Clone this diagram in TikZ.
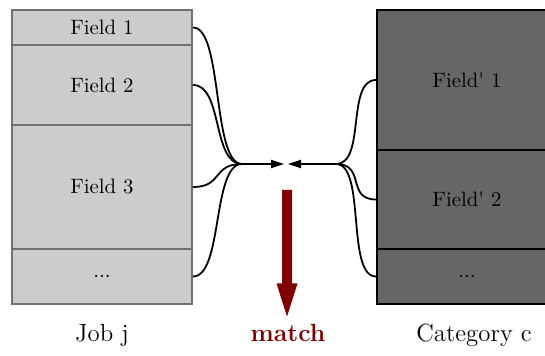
\documentclass[tikz,border=0pt]{standalone}
\usetikzlibrary{arrows.meta}
\definecolor{lightfield}{HTML}{CCCCCC}
\definecolor{lightborder}{HTML}{707070}
\definecolor{darkfield}{HTML}{666666}
\definecolor{matchred}{HTML}{800000}
\begin{document}
\begin{tikzpicture}[x=0.5pt,y=-0.5pt,
  jobfield/.style={draw=lightborder,fill=lightfield,line width=1pt,minimum width=90pt,inner sep=0pt,font=\fontsize{10.4}{12}\selectfont},
  catfield/.style={draw=black,fill=darkfield,line width=1pt,minimum width=90pt,inner sep=0pt,font=\fontsize{10.4}{12}\selectfont},
  link/.style={line width=0.9pt,black},
  linkarrow/.style={line width=0.9pt,black,-{Triangle[length=6.5pt,width=4pt]}},
  caption/.style={anchor=base,font=\fontsize{12.4}{14}\selectfont}]
\useasboundingbox (0,0) rectangle (545,356);
% Job j fields
\node[jobfield,minimum height=17.5pt] (f1) at (102,27.5) {Field 1};
\node[jobfield,minimum height=40pt]   (f2) at (102,85)   {Field 2};
\node[jobfield,minimum height=62pt]   (f3) at (102,187)  {Field 3};
\node[jobfield,minimum height=27.5pt] (f4) at (102,276.5){...};
% Category c fields
\node[catfield,minimum height=70pt]   (g1) at (467,80)   {Field\textquotesingle\ 1};
\node[catfield,minimum height=49.5pt] (g2) at (467,199.5){Field\textquotesingle\ 2};
\node[catfield,minimum height=27.5pt] (g3) at (467,276.5){...};
% junctions
\coordinate (jl) at (242,164);
\coordinate (jr) at (336,164);
\coordinate (tl) at (284,164);
\coordinate (tr) at (288,164);
\foreach \n in {f1,f2,f3,f4} \draw[link] (\n.east) .. controls +(30,0) and +(-30,0) .. (jl);
\foreach \n in {g1,g2,g3} \draw[link] (\n.west) .. controls +(-30,0) and +(30,0) .. (jr);
\draw[linkarrow] (jl) -- (tl);
\draw[linkarrow] (jr) -- (tr);
% big match arrow
\fill[matchred] (282,190) -- (292,190) -- (292,283.5) -- (297.5,283.5) -- (287,316.5) -- (276.5,283.5) -- (282,283.5) -- cycle;
% captions
\node[caption] (lj) at (102,342) {Job j};
\node[caption,text=matchred,font=\fontsize{12.4}{14}\selectfont\bfseries] (lm) at (288,342) {match};
\node[caption] (lc) at (474,342) {Category c};
\end{tikzpicture}
\end{document}
